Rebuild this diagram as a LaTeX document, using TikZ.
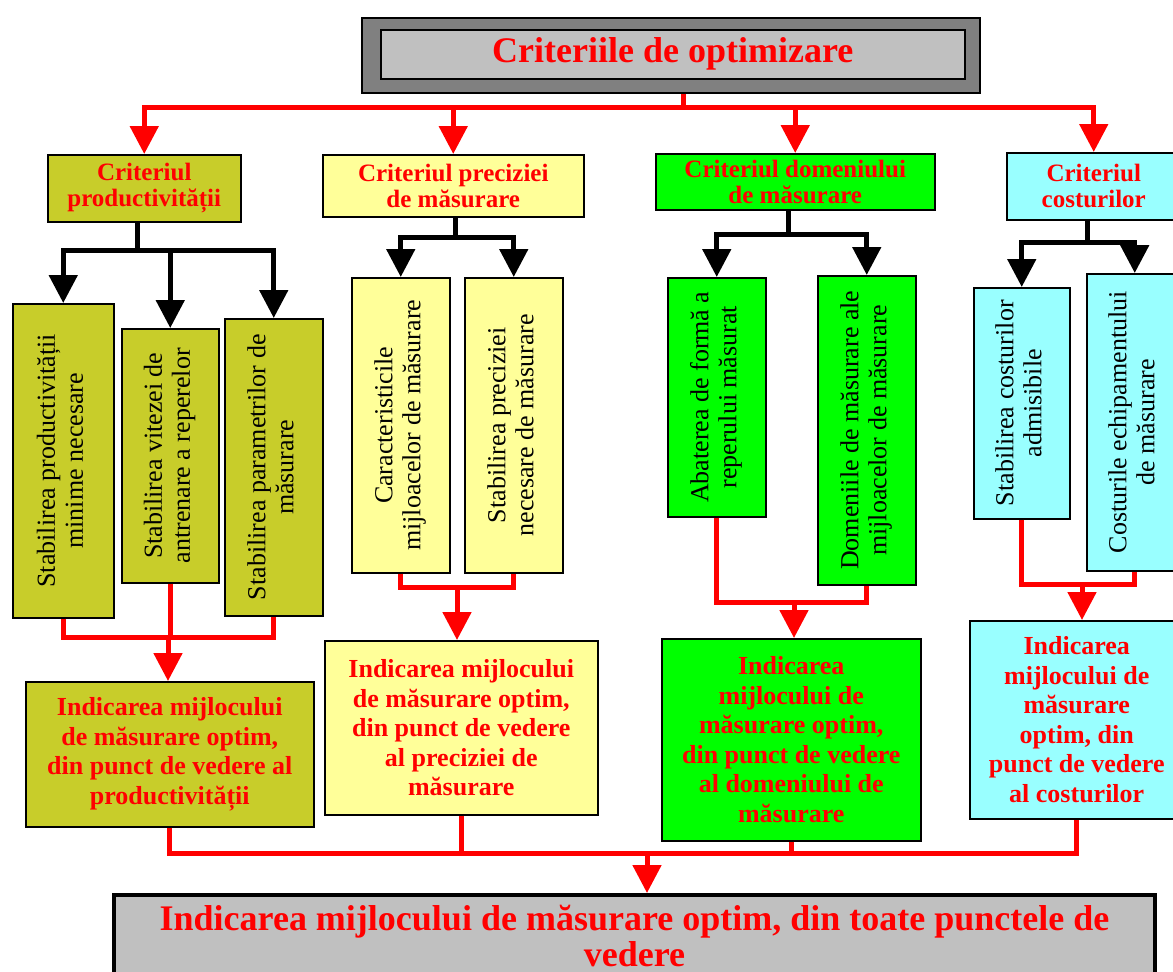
\documentclass[tikz,border=0pt]{standalone}
\usepackage{fontspec}
\setmainfont{Liberation Serif}
\usepackage{graphicx}
\definecolor{crolive}{RGB}{200,205,42}
\definecolor{cryellow}{RGB}{255,255,153}
\definecolor{crgreen}{RGB}{0,255,0}
\definecolor{crcyan}{RGB}{153,255,255}
\definecolor{crdark}{RGB}{128,128,128}
\definecolor{crlight}{RGB}{192,192,192}
\definecolor{crred}{RGB}{255,0,0}
\usetikzlibrary{arrows.meta}

% two lines of text turned upright inside a tall box
\newcommand{\vtext}[2]{\rotatebox{90}{\begin{tabular}{@{}c@{}}#1\\#2\end{tabular}}}

\begin{document}
\begin{tikzpicture}[x=1pt, y=-1pt,
  box/.style={draw=black, line width=1.5pt, inner sep=0pt, anchor=north west},
  sz/.style 2 args={minimum width=#1pt, minimum height=#2pt},
  crit/.style={box, text=crred, font=\fontsize{25}{26}\selectfont\bfseries, align=center},
  sub/.style={box, font=\fontsize{26}{28}\selectfont},
  ind/.style={box, text=crred, font=\fontsize{26}{29.5}\selectfont\bfseries, align=center},
  redline/.style={crred, line width=5pt},
  redarrow/.style={redline, -{Triangle[width=28pt, length=28pt]}},
  blackline/.style={black, line width=5pt},
  blackarrow/.style={blackline, -{Triangle[width=28pt, length=28pt]}}]

\fill[white] (0,0) rectangle (1173,972);
\useasboundingbox (0,0) rectangle (1173,972);

% --- Title ---
\node[box, fill=crdark, sz={618}{75}] (title) at (361,17) {};
\node[box, fill=crlight, sz={584}{49}, text=crred,
      font=\fontsize{36}{40}\selectfont\bfseries] (title-in) at (380,29) {Criteriile de optimizare};

% --- Criteria ---
\node[crit, fill=crolive, sz={193}{67}] (crit1) at (47,154) {Criteriul\\productivității};
\node[crit, fill=cryellow, sz={261}{62}] (crit2) at (322,154) {Criteriul preciziei\\de măsurare};
\node[crit, fill=crgreen, sz={279}{56}] (crit3) at (655,153) {Criteriul domeniului\\de măsurare};
\node[crit, fill=crcyan, sz={174}{67}] (crit4) at (1006,152) {Criteriul\\costurilor};

% --- Steps, productivity ---
\node[sub, fill=crolive, sz={101}{314}] (prod-min) at (12,303) {\vtext{Stabilirea productivității}{minime necesare}};
\node[sub, fill=crolive, sz={97}{254}] (prod-vit) at (121,328) {\vtext{Stabilirea vitezei de}{antrenare a reperelor}};
\node[sub, fill=crolive, sz={98}{297}] (prod-par) at (224,318) {\vtext{Stabilirea parametrilor de}{măsurare}};

% --- Steps, precision ---
\node[sub, fill=cryellow, sz={98}{295}] (prec-car) at (351,277) {\vtext{Caracteristicile}{mijloacelor de măsurare}};
\node[sub, fill=cryellow, sz={98}{295}] (prec-nec) at (464,277) {\vtext{Stabilirea preciziei}{necesare de măsurare}};

% --- Steps, range ---
\node[sub, fill=crgreen, sz={98}{239}] (dom-aba) at (667,277) {\vtext{Abaterea de formă a}{reperului măsurat}};
\node[sub, fill=crgreen, sz={98}{309}] (dom-mij) at (817,275) {\vtext{Domeniile de măsurare ale}{mijloacelor de măsurare}};

% --- Steps, costs ---
\node[sub, fill=crcyan, sz={96}{231}] (cost-adm) at (973,287) {\vtext{Stabilirea costurilor}{admisibile}};
\node[sub, fill=crcyan, sz={96}{297}] (cost-ech) at (1086,273) {\vtext{Costurile echipamentului}{de măsurare}};

% --- Partial results ---
\node[ind, fill=crolive, sz={288}{145}] (ind-prod) at (25,681)
  {Indicarea mijlocului\\de măsurare optim,\\din punct de vedere al\\productivității};
\node[ind, fill=cryellow, sz={273}{174}] (ind-prec) at (324,640)
  {Indicarea mijlocului\\de măsurare optim,\\din punct de vedere\\al preciziei de\\măsurare};
\node[ind, fill=crgreen, sz={259}{202}] (ind-dom) at (661,638)
  {Indicarea\\mijlocului de\\măsurare optim,\\din punct de vedere\\al domeniului de\\măsurare};
\node[ind, fill=crcyan, sz={214}{198}] (ind-cost) at (969,620)
  {Indicarea\\mijlocului de\\măsurare\\optim, din\\punct de vedere\\al costurilor};

% --- Final result ---
\node[box, fill=crlight, line width=4pt, sz={1041}{140}] (ind-all) at (112,893) {};
\node[text=crred, font=\fontsize{36}{36}\selectfont\bfseries, align=center, inner sep=0pt, anchor=north]
  (ind-all-t) at ([yshift=-12pt]ind-all.north) {Indicarea mijlocului de măsurare optim, din toate punctele de\\vedere};

% red bus under the title
\coordinate (bus-top) at (683,107);
\draw[redline] (bus-top |- title.south) -- (bus-top);
\foreach \c in {crit1,crit2,crit3,crit4}
  \draw[redarrow] (bus-top) -| (\c.north);

% black splits
\coordinate (split1) at (137,250);
\draw[blackline] (split1 |- crit1.south) -- (split1);
\foreach \s in {prod-min,prod-vit,prod-par}
  \draw[blackarrow] (split1) -| (\s.north);

\coordinate (split2) at (455,237);
\draw[blackline] (split2 |- crit2.south) -- (split2);
\foreach \s in {prec-car,prec-nec}
  \draw[blackarrow] (split2) -| (\s.north);

\coordinate (split3) at (788,234);
\draw[blackline] (split3 |- crit3.south) -- (split3);
\foreach \s in {dom-aba,dom-mij}
  \draw[blackarrow] (split3) -| (\s.north);

\coordinate (split4) at (1087,242);
\draw[blackline] (split4 |- crit4.south) -- (split4);
\foreach \s in {cost-adm,cost-ech}
  \draw[blackarrow] (split4) -| (\s.north);

% red joins down to the partial results
\coordinate (join1) at (168,637);
\draw[redline] (prod-min.south) |- (join1) -| (prod-par.south);
\draw[redline] (prod-vit.south) -- (prod-vit.south |- join1);
\draw[redarrow] (join1) -- (join1 |- ind-prod.north);

\coordinate (join2) at (457,587);
\draw[redline] (prec-car.south) |- (join2) -| (prec-nec.south);
\draw[redarrow] (join2) -- (join2 |- ind-prec.north);

\coordinate (join3) at (794,602);
\draw[redline] (dom-aba.south) |- (join3) -| (dom-mij.south);
\draw[redarrow] (join3) -- (join3 |- ind-dom.north);

\coordinate (join4) at (1082,584);
\draw[redline] (cost-adm.south) |- (join4) -| (cost-ech.south);
\draw[redarrow] (join4) -- (join4 |- ind-cost.north);

% bottom bus into the final result
\coordinate (join5) at (647,853);
\draw[redline] (ind-prod.south) |- (join5) -| (ind-cost.south);
\draw[redline] (ind-prec.south) -- (ind-prec.south |- join5);
\draw[redline] (ind-dom.south) -- (ind-dom.south |- join5);
\draw[redarrow] (join5) -- (join5 |- ind-all.north);

\end{tikzpicture}
\end{document}
